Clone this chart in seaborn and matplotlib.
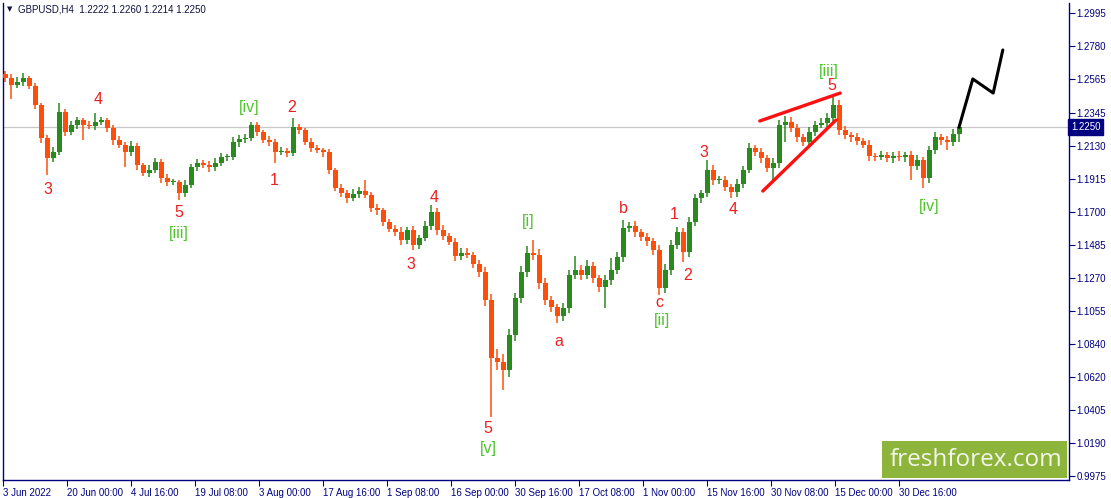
import numpy as np
import pandas as pd
import matplotlib.pyplot as plt
import seaborn as sns
from matplotlib.patches import Rectangle

# --- style ---
sns.set_theme(style="white")
plt.rcParams["font.family"] = ["Liberation Sans", "DejaVu Sans"]

NAVY = "#000080"
BULL = "#2A8A1E"
BEAR = "#FF4E0A"
WAVE_RED = "#F01E1E"
WAVE_GREEN = "#4FC42D"

# --- data (daily closes) ---
symbol_line = "GBPUSD,H4  1.2222 1.2260 1.2214 1.2250"
first_open = 1.2600

closes = [
    1.2571, 1.2526, 1.2545, 1.2571, 1.2519, 1.2395, 1.2180, 1.2050, 1.2089, 1.2350,
    1.2219, 1.2265, 1.2297, 1.2265, 1.2258, 1.2284, 1.2297, 1.2245, 1.2167, 1.2134,
    1.2089, 1.2128, 1.2004, 1.1952, 1.1971, 1.2024, 1.1919, 1.1893, 1.1893, 1.1821,
    1.1874, 1.1991, 1.2017, 1.2004, 1.1991, 1.2017, 1.2056, 1.2056, 1.2154, 1.2174,
    1.2180, 1.2265, 1.2219, 1.2167, 1.2154, 1.2089, 1.2095, 1.2082, 1.2252, 1.2232,
    1.2154, 1.2115, 1.2102, 1.2089, 1.1971, 1.1854, 1.1821, 1.1789, 1.1815, 1.1834,
    1.1808, 1.1724, 1.1711, 1.1632, 1.1587, 1.1567, 1.1515, 1.1580, 1.1482, 1.1528,
    1.1606, 1.1698, 1.1580, 1.1541, 1.1502, 1.1411, 1.1430, 1.1417, 1.1359, 1.1306,
    1.1124, 1.0746, 1.0720, 1.0667, 1.0896, 1.1137, 1.1306, 1.1430, 1.1417, 1.1235,
    1.1124, 1.1078, 1.1020, 1.1072, 1.1287, 1.1319, 1.1287, 1.1345, 1.1267, 1.1209,
    1.1254, 1.1319, 1.1404, 1.1593, 1.1606, 1.1567, 1.1535, 1.1508, 1.1450, 1.1202,
    1.1319, 1.1482, 1.1567, 1.1437, 1.1632, 1.1789, 1.1821, 1.1971, 1.1906, 1.1906,
    1.1861, 1.1828, 1.1880, 1.1971, 1.2115, 1.2089, 1.2050, 1.1984, 1.2017, 1.2265,
    1.2284, 1.2245, 1.2187, 1.2154, 1.2219, 1.2265, 1.2278, 1.2310, 1.2395, 1.2232,
    1.2200, 1.2187, 1.2160, 1.2134, 1.2063, 1.2056, 1.2069, 1.2050, 1.2063, 1.2056,
    1.2069, 1.1997, 1.2037, 1.1919, 1.2102, 1.2187, 1.2167, 1.2154, 1.2206, 1.2250,
]

up_wick_pips = [
    20, 25, 30, 33, 15, 20, 15, 20, 30, 58,
    20, 25, 20, 15, 25, 59, 20, 15, 20, 25,
    20, 30, 20, 15, 30, 25, 20, 25, 20, 15,
    30, 20, 25, 20, 25, 30, 25, 20, 30, 25,
    25, 19, 20, 15, 25, 20, 25, 20, 57, 20,
    15, 25, 20, 15, 20, 15, 25, 20, 30, 25,
    72, 20, 25, 15, 20, 25, 30, 20, 25, 20,
    30, 43, 25, 30, 20, 25, 35, 30, 20, 25,
    30, 40, 60, 50, 40, 35, 40, 45, 85, 40,
    30, 25, 20, 35, 30, 90, 30, 40, 25, 20,
    35, 80, 30, 52, 25, 30, 20, 25, 20, 30,
    40, 30, 33, 25, 30, 25, 20, 66, 30, 25,
    25, 20, 30, 25, 30, 20, 25, 20, 30, 35,
    40, 30, 25, 20, 30, 25, 30, 35, 66, 30,
    25, 20, 25, 20, 30, 20, 25, 20, 25, 30,
    20, 25, 30, 20, 25, 30, 20, 25, 30, 15,
]

down_wick_pips = [
    25, 92, 20, 25, 20, 25, 30, 111, 25, 20,
    25, 20, 25, 98, 20, 25, 20, 25, 30, 20,
    98, 25, 30, 20, 25, 20, 30, 25, 20, 45,
    25, 20, 25, 20, 30, 25, 20, 25, 20, 30,
    25, 20, 25, 20, 25, 72, 20, 25, 20, 25,
    20, 25, 20, 30, 25, 20, 25, 30, 20, 25,
    20, 25, 30, 25, 20, 25, 30, 25, 32, 25,
    20, 25, 30, 25, 20, 30, 25, 20, 25, 30,
    40, 387, 50, 132, 45, 40, 35, 30, 30, 40,
    35, 30, 46, 30, 35, 25, 30, 25, 30, 35,
    137, 30, 25, 30, 25, 30, 25, 30, 35, 46,
    35, 30, 25, 65, 30, 25, 30, 25, 30, 25,
    25, 39, 30, 25, 20, 25, 30, 25, 78, 30,
    110, 25, 30, 25, 20, 25, 20, 25, 30, 35,
    25, 30, 25, 20, 30, 25, 20, 25, 30, 25,
    30, 91, 25, 65, 30, 25, 30, 50, 25, 52,
]

price_ticks = [1.2995, 1.2780, 1.2565, 1.2345, 1.2130, 1.1915, 1.1700, 1.1485,
               1.1270, 1.1055, 1.0840, 1.0620, 1.0405, 1.0190, 0.9975]

date_labels = ["3 Jun 2022", "20 Jun 00:00", "4 Jul 16:00", "19 Jul 08:00",
               "3 Aug 00:00", "17 Aug 16:00", "1 Sep 08:00", "16 Sep 00:00",
               "30 Sep 16:00", "17 Oct 08:00", "1 Nov 00:00", "15 Nov 16:00",
               "30 Nov 08:00", "15 Dec 00:00", "30 Dec 16:00"]

# wave count: (text, candle index, anchor, dx px, dy px, colour)
wave_labels = [
    ("4", 15, "high", 3, 14, WAVE_RED),
    ("3", 7, "low", 1, -15, WAVE_RED),
    ("5", 29, "low", 0, -13, WAVE_RED),
    ("[iii]", 29, "low", 0, -34, WAVE_GREEN),
    ("[iv]", 41, "high", -2, 15, WAVE_GREEN),
    ("2", 48, "high", -1, 11, WAVE_RED),
    ("1", 45, "low", -1, -17, WAVE_RED),
    ("4", 71, "high", 3, 8, WAVE_RED),
    ("3", 68, "low", -2, -15, WAVE_RED),
    ("[i]", 88, "high", -5, 18, WAVE_GREEN),
    ("5", 81, "low", -3, -11, WAVE_RED),
    ("[v]", 81, "low", -3, -31, WAVE_GREEN),
    ("a", 92, "low", 2, -19, WAVE_RED),
    ("b", 103, "high", 0, 12, WAVE_RED),
    ("c", 109, "low", 0, -7, WAVE_RED),
    ("[ii]", 109, "low", 3, -25, WAVE_GREEN),
    ("1", 112, "high", -3, 12, WAVE_RED),
    ("2", 113, "low", 5, -14, WAVE_RED),
    ("3", 117, "high", -3, 7, WAVE_RED),
    ("4", 121, "low", 2, -12, WAVE_RED),
    ("5", 138, "high", -1, 9, WAVE_RED),
    ("[iii]", 138, "high", -4, 23, WAVE_GREEN),
    ("[iv]", 153, "low", 6, -18, WAVE_GREEN),
]

# ending diagonal and forecast path (in trading days / price)
wedge_upper_day = [125.8, 139.2]
wedge_upper_price = [1.2291, 1.2473]
wedge_lower_day = [126.3, 138.5]
wedge_lower_price = [1.1834, 1.2297]
forecast_day = [159, 161.3, 164.7, 166.3]
forecast_price = [1.2250, 1.2565, 1.2473, 1.2754]

BARS_PER_DAY = 6  # H4 bars per trading day, 1 px each


def day_to_x(d):
    return np.asarray(d) * BARS_PER_DAY + 2


df = pd.DataFrame({"close": closes, "up": up_wick_pips, "down": down_wick_pips})
df["open"] = df["close"].shift(1).fillna(first_open)
df["high"] = df[["open", "close"]].max(axis=1) + df["up"] / 10000
df["low"] = df[["open", "close"]].min(axis=1) - df["down"] / 10000
df["x"] = day_to_x(df.index)

fig = plt.figure(figsize=(11.11, 4.98), dpi=100)
fig.patch.set_facecolor("white")
ax = fig.add_axes([3 / 1111, 18 / 498, 1066 / 1111, 477 / 498])
ax.set_facecolor("white")

ax.axhline(closes[-1], color="#C8C8C8", lw=0.9, zorder=0)

colors = np.where(df["close"] >= df["open"], BULL, BEAR)
ax.vlines(df["x"], df["low"], df["high"], colors=colors, lw=1.1, zorder=2)
body = (df["close"] - df["open"]).abs().clip(lower=0.0007)
ax.bar(df["x"], body, bottom=df[["open", "close"]].min(axis=1), width=5,
       color=colors, linewidth=0, zorder=3)

sns.lineplot(x=day_to_x(wedge_upper_day), y=wedge_upper_price, color="#FF1010",
             lw=2.4, ax=ax, legend=False, zorder=4)
sns.lineplot(x=day_to_x(wedge_lower_day), y=wedge_lower_price, color="#FF1010",
             lw=2.4, ax=ax, legend=False, zorder=4)
sns.lineplot(x=day_to_x(forecast_day), y=forecast_price, color="black",
             lw=2.2, ax=ax, legend=False, zorder=4)

for text, idx, side, dx, dy, col in wave_labels:
    yv = df["high"][idx] if side == "high" else df["low"][idx]
    ax.annotate(text, xy=(df["x"][idx], yv), xytext=(dx, dy),
                textcoords="offset pixels", ha="center", va="center",
                fontsize=11.5, color=col, zorder=5)

# axes
ax.set_xlim(0, 1066)
ax.set_ylim(0.99502, 1.30602)
ax.yaxis.tick_right()
ax.set_yticks(price_ticks)
ax.set_yticklabels([f"{v:.4f}" for v in price_ticks])
ax.set_xticks([64 * k for k in range(len(date_labels))])
ax.set_xticklabels(date_labels)
for lbl in ax.get_xticklabels():
    lbl.set_ha("left")
ax.tick_params(axis="both", which="major", length=4, width=0.8, color=NAVY,
               labelcolor=NAVY, labelsize=7, pad=1.5,
               bottom=True, right=True, left=False, top=False)
ax.grid(False)
for side in ["left", "bottom", "right"]:
    ax.spines[side].set_color(NAVY)
    ax.spines[side].set_linewidth(1.0)
ax.spines["top"].set_visible(False)
ax.set_xlabel("")
ax.set_ylabel("")

# current price tag
ax.text(1.0 + 2 / 1066, closes[-1], f"{closes[-1]:.4f}", transform=ax.get_yaxis_transform(),
        ha="left", va="center", fontsize=7, color="white", zorder=6,
        bbox=dict(boxstyle="square,pad=0.3", fc=NAVY, ec=NAVY), clip_on=False)

# header
fig.text(7 / 1111, 1 - 9 / 498, "\u25BC", fontsize=5, color="#101040", va="center",
         family="DejaVu Sans")
fig.text(18 / 1111, 1 - 9 / 498, symbol_line, fontsize=7, color="#101040", va="center")

# watermark
fig.add_artist(Rectangle((882 / 1111, 1 - 478 / 498), (1067 - 882) / 1111, 37 / 498,
                         transform=fig.transFigure, facecolor="#8DB43B", edgecolor="none",
                         zorder=7))
fig.text(976 / 1111, 1 - 460 / 498, "freshforex.com", fontsize=17.5, color="#F3F6EA",
         ha="center", va="center", family="Open Sans", zorder=8)

fig.savefig("out.png", dpi=100, facecolor="white")
